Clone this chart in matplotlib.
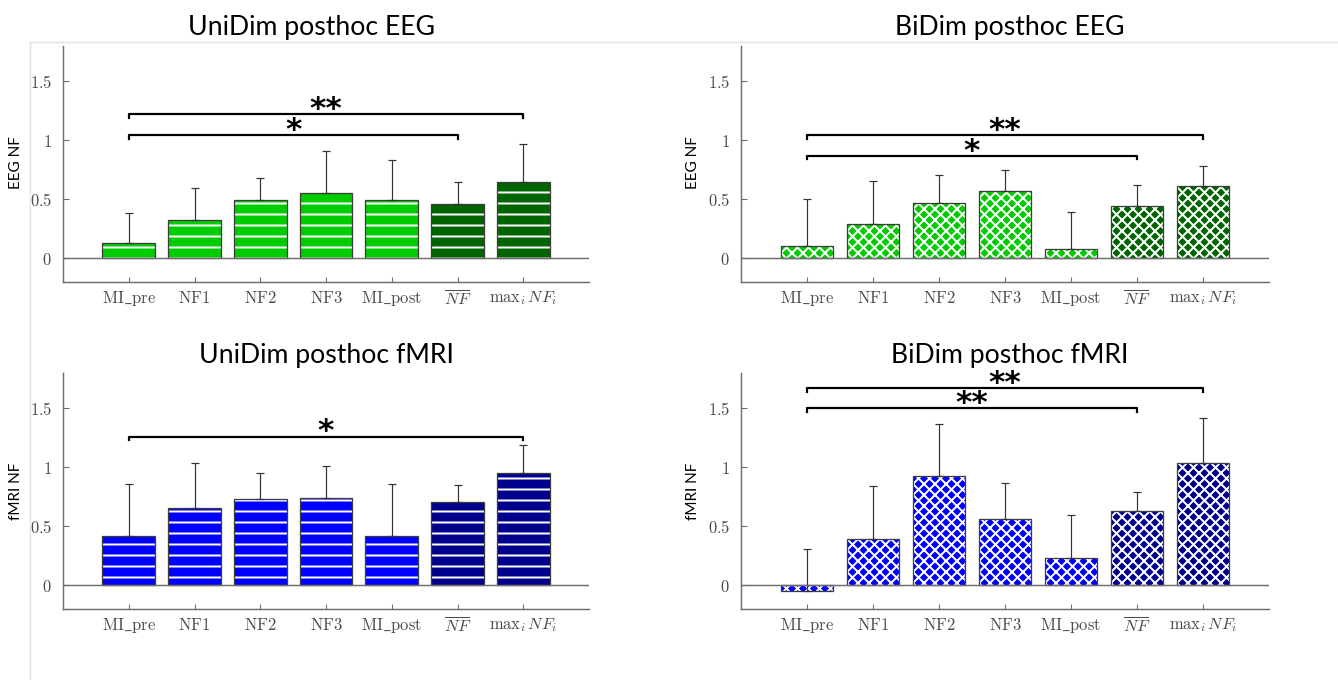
import matplotlib.pyplot as plt
import numpy as np
from matplotlib.lines import Line2D

# ------------------------------------------------------------
# Data
# ------------------------------------------------------------

categories = [
    r"$\mathrm{MI\_pre}$",
    r"$\mathrm{NF1}$",
    r"$\mathrm{NF2}$",
    r"$\mathrm{NF3}$",
    r"$\mathrm{MI\_post}$",
    r"$\overline{NF}$",
    r"$\mathrm{max}_i\, NF_i$",
]
ytick_values = [0, 0.5, 1, 1.5]
ytick_labels = [r"$0$", r"$0.5$", r"$1$", r"$1.5$"]

# mean values and upper error (top of whisker minus mean)
uni_eeg_mean = [0.13, 0.32, 0.49, 0.55, 0.49, 0.46, 0.64]
uni_eeg_err = [0.25, 0.27, 0.19, 0.36, 0.34, 0.18, 0.33]

bi_eeg_mean = [0.10, 0.29, 0.47, 0.57, 0.08, 0.44, 0.61]
bi_eeg_err = [0.40, 0.36, 0.23, 0.18, 0.31, 0.18, 0.17]

uni_fmri_mean = [0.42, 0.655, 0.73, 0.74, 0.42, 0.71, 0.95]
uni_fmri_err = [0.44, 0.385, 0.22, 0.27, 0.44, 0.14, 0.24]

bi_fmri_mean = [-0.05, 0.39, 0.93, 0.565, 0.23, 0.63, 1.04]
bi_fmri_err = [0.36, 0.45, 0.44, 0.30, 0.365, 0.16, 0.38]

# significance brackets: (from bar, to bar, height, stars)
uni_eeg_sig = [(1, 6, 1.04, "*"), (1, 7, 1.22, "**")]
bi_eeg_sig = [(1, 6, 0.865, "*"), (1, 7, 1.04, "**")]
uni_fmri_sig = [(1, 7, 1.26, "*")]
bi_fmri_sig = [(1, 6, 1.50, "**"), (1, 7, 1.67, "**")]

# ------------------------------------------------------------
# Style
# ------------------------------------------------------------

plt.rcParams["mathtext.fontset"] = "cm"
plt.rcParams["hatch.linewidth"] = 1.1

DPI = 132
W, H = 1338, 680

GREEN = "#00cc00"
DARK_GREEN = "#006400"
BLUE = "#0000ff"
DARK_BLUE = "#00008c"
AXIS_GRAY = "#6e6e6e"
TEXT_GRAY = "#4a4a4a"

# (left, top, width, height) in pixels from the top-left corner
panels = [
    dict(rect=(63, 45.6, 526, 236), mean=uni_eeg_mean, err=uni_eeg_err, sig=uni_eeg_sig,
         colors=(GREEN, DARK_GREEN), hatch="--", title="UniDim posthoc EEG",
         title_xy=(311, 35), ylabel="EEG NF", ylabel_xy=(16, 163)),
    dict(rect=(741, 45.6, 528, 236), mean=bi_eeg_mean, err=bi_eeg_err, sig=bi_eeg_sig,
         colors=(GREEN, DARK_GREEN), hatch="xxxx", title="BiDim posthoc EEG",
         title_xy=(1010, 35), ylabel="EEG NF", ylabel_xy=(693, 163)),
    dict(rect=(63, 373, 526, 236), mean=uni_fmri_mean, err=uni_fmri_err, sig=uni_fmri_sig,
         colors=(BLUE, DARK_BLUE), hatch="--", title="UniDim posthoc fMRI",
         title_xy=(326, 363), ylabel="fMRI NF", ylabel_xy=(16, 491)),
    dict(rect=(741, 373, 528, 236), mean=bi_fmri_mean, err=bi_fmri_err, sig=bi_fmri_sig,
         colors=(BLUE, DARK_BLUE), hatch="xxxx", title="BiDim posthoc fMRI",
         title_xy=(1010, 363), ylabel="fMRI NF", ylabel_xy=(693, 491)),
]

fig = plt.figure(figsize=(W / DPI, H / DPI), dpi=DPI)

# thin slide frame lines
fig.add_artist(Line2D([30 / W, 30 / W], [0, 1 - 42 / H], transform=fig.transFigure,
                      color="#e4e4e4", lw=0.8))
fig.add_artist(Line2D([30 / W, 1], [1 - 42 / H, 1 - 42 / H], transform=fig.transFigure,
                      color="#e4e4e4", lw=0.8))

x = np.arange(1, len(categories) + 1)

for p in panels:
    l, t, w, h = p["rect"]
    ax = fig.add_axes([l / W, 1 - (t + h) / H, w / W, h / H])

    mean = np.array(p["mean"])
    err = np.array(p["err"])
    light, dark = p["colors"]
    fills = [light] * 5 + [dark] * 2

    # filled + white hatch, then outline on top
    ax.bar(x, mean, width=0.8, color=fills, edgecolor="white", linewidth=0,
           hatch=p["hatch"], zorder=2)
    ax.bar(x, mean, width=0.8, facecolor="none", edgecolor="#3c3c3c",
           linewidth=0.7, zorder=2.5)

    ax.errorbar(x, mean, yerr=[np.zeros(len(x)), err], fmt="none",
                ecolor="#333333", elinewidth=0.65, capsize=2, capthick=0.65, zorder=3)

    ax.axhline(0, color=AXIS_GRAY, lw=0.8, zorder=3)

    for i1, i2, yy, stars in p["sig"]:
        xa, xb = x[i1 - 1], x[i2 - 1]
        ax.plot([xa, xa, xb, xb], [yy - 0.03, yy, yy, yy - 0.03], color="black",
                lw=1.2, solid_joinstyle="round", zorder=4)
        ax.annotate(stars, xy=((xa + xb) / 2, yy), xytext=(0, -2.0),
                    textcoords="offset points", ha="center", va="baseline",
                    fontsize=17, fontweight="bold", family="DejaVu Sans")

    ax.set_xlim(0, 8)
    ax.set_ylim(-0.2, 1.8)
    ax.set_xticks(x)
    ax.set_xticklabels(categories)
    ax.set_yticks(ytick_values)
    ax.set_yticklabels(ytick_labels)

    ax.tick_params(direction="in", length=3, width=0.6, color=AXIS_GRAY,
                   labelcolor=TEXT_GRAY, labelsize=9)
    ax.tick_params(axis="y", pad=6)
    ax.tick_params(axis="x", pad=4)

    for side in ("top", "right"):
        ax.spines[side].set_visible(False)
    for side in ("left", "bottom"):
        ax.spines[side].set_color(AXIS_GRAY)
        ax.spines[side].set_linewidth(0.8)
    ax.patch.set_visible(False)

    tx, ty = p["title_xy"]
    fig.text(tx / W, 1 - ty / H, p["title"], ha="center", va="baseline",
             fontsize=14.5, family="Lato")
    lx, ly = p["ylabel_xy"]
    fig.text(lx / W, 1 - ly / H, p["ylabel"], rotation=90, ha="center", va="center",
             fontsize=8.3, family="Lato")

fig.savefig("out.png", dpi=DPI)
